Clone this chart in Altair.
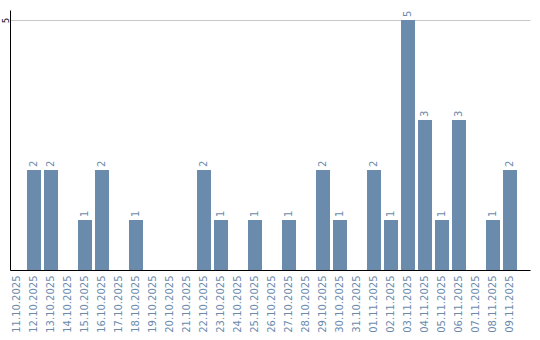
import altair as alt
import pandas as pd

dates = ["11.10.2025", "12.10.2025", "13.10.2025", "14.10.2025", "15.10.2025",
         "16.10.2025", "17.10.2025", "18.10.2025", "19.10.2025", "20.10.2025",
         "21.10.2025", "22.10.2025", "23.10.2025", "24.10.2025", "25.10.2025",
         "26.10.2025", "27.10.2025", "28.10.2025", "29.10.2025", "30.10.2025",
         "31.10.2025", "01.11.2025", "02.11.2025", "03.11.2025", "04.11.2025",
         "05.11.2025", "06.11.2025", "07.11.2025", "08.11.2025", "09.11.2025"]
counts = [0, 2, 2, 0, 1, 2, 0, 1, 0, 0,
          0, 2, 1, 0, 1, 0, 1, 0, 2, 1,
          0, 2, 1, 5, 3, 1, 3, 0, 1, 2]

df = pd.DataFrame({"date": dates, "count": counts})
COLOR = "#6b8bad"

x_enc = alt.X("date:N", sort=dates, title=None,
              scale=alt.Scale(paddingInner=0.1765, paddingOuter=0.382, align=0),
              axis=alt.Axis(labelAngle=270, labelAlign="right", labelBaseline="middle",
                            labelPadding=5, ticks=False, labelColor=COLOR,
                            labelFontSize=10, labelFont="DejaVu Sans",
                            domainColor="black", grid=False))
y_enc = alt.Y("count:Q", title=None,
              scale=alt.Scale(domain=[0, 5.2], nice=False),
              axis=alt.Axis(values=[5], labelAngle=270, labelAlign="center",
                            labelBaseline="alphabetic", labelPadding=2, ticks=False,
                            labelColor="black", labelFontSize=8,
                            labelFont="DejaVu Sans", domainColor="black",
                            grid=True, gridColor="#c8c8c8"))

base = alt.Chart(df)
bars = base.mark_bar(color=COLOR).encode(x=x_enc, y=y_enc)
labels = base.transform_filter("datum.count > 0").mark_text(
    angle=270, align="left", baseline="middle", dx=3,
    color=COLOR, fontSize=10, font="DejaVu Sans"
).encode(x=alt.X("date:N", sort=dates), y="count:Q", text="count:Q")

chart = (bars + labels).properties(
    width=520, height=260,
    autosize=alt.AutoSizeParams(type="none"),
    padding={"left": 10, "top": 10, "right": 10, "bottom": 70},
).configure_view(stroke=None)

chart.save("out.html", embed_options={"renderer": "svg", "actions": False})
